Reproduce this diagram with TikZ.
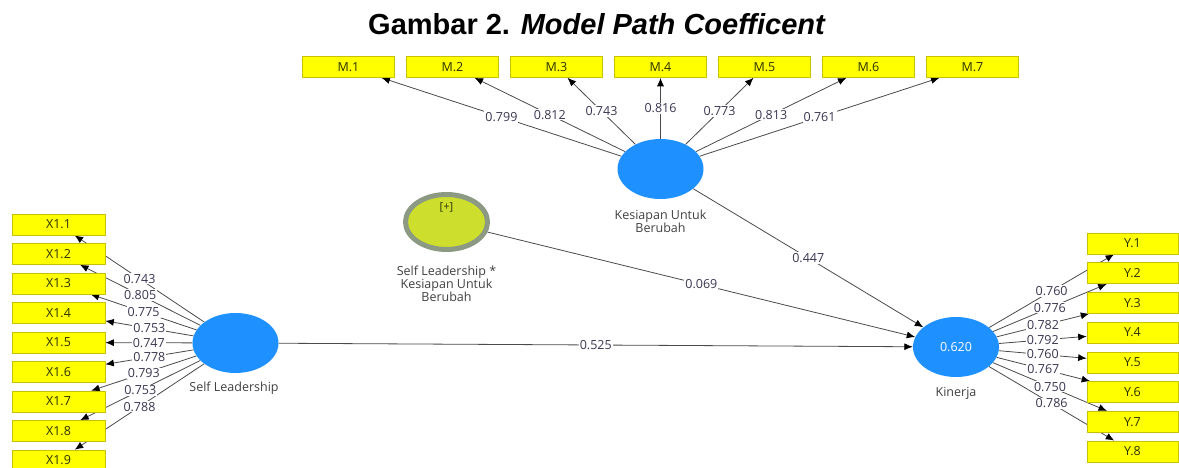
\documentclass[tikz,border=0pt]{standalone}
\usepackage{fontspec}
\setmainfont{Open Sans}
\newfontfamily\titlefont{Liberation Sans}
\usetikzlibrary{arrows.meta,backgrounds,shapes.geometric}
\definecolor{lvblue}{HTML}{1E90FF}
\definecolor{modfill}{HTML}{CDDF2C}
\definecolor{modring}{HTML}{8C9A84}
\definecolor{indyellow}{HTML}{FFFF00}
\definecolor{indborder}{HTML}{C8C000}
\definecolor{indtext}{HTML}{2A3300}
\definecolor{coeftext}{HTML}{3A3652}
\definecolor{conngray}{HTML}{4A4A4A}
\begin{document}
\begin{tikzpicture}[x=1pt,y=-1pt,>={Latex[length=8.5pt,width=7pt,color=black]},line join=round,font=\fontsize{12.5}{13}\selectfont,
	ind/.style={draw=indborder,line width=0.6pt,fill=indyellow,minimum width=92pt,minimum height=21pt,inner sep=0pt,text=indtext},
	lv/.style={ellipse,fill=lvblue,minimum width=86pt,minimum height=60pt,inner sep=0pt,text=white},
	lvname/.style={align=center,text=black!75,inner sep=0pt},
	conn/.style={draw=conngray,line width=0.8pt},
	coef/.style={fill=white,inner sep=1pt,text=coeftext}]
	\useasboundingbox (0,0) rectangle (1179,468);
	\node[anchor=base,font=\titlefont\fontsize{29}{31}\selectfont\bfseries] (title) at (597,35) {Gambar 2. \textit{Model Path Coefficent}};
	% latent variables
	\node[lv] (SL) at (235.5,343) {};
	\node[lv] (KS) at (660.5,169) {};
	\node[lv] (KN) at (956,347) {0.620};
	\node[ellipse,fill=modfill,draw=modring,line width=5pt,minimum width=82pt,minimum height=55pt,inner sep=0pt] (MOD) at (446.5,222) {};
	\node[font=\fontsize{11}{12}\selectfont,text=indtext] (plus) at (446.5,207) {[+]};
	\node[lvname] (SLname) at (234,388) {Self Leadership};
	\node[lvname] (KSname) at (660.5,221.5) {Kesiapan Untuk\\Berubah};
	\node[lvname] (KNname) at (956,393) {Kinerja};
	\node[lvname] (MODname) at (446.5,284) {Self Leadership *\\Kesiapan Untuk\\Berubah};
	% indicators
	\foreach \i in {1,...,7} \node[ind] (M\i) at ({348.5+104*(\i-1)},67) {M.\i};
	\foreach \i in {1,...,9} \node[ind,minimum width=93pt] (X\i) at (58.5,{224.5+29.5*(\i-1)}) {X1.\i};
	\foreach \i in {1,...,8} \node[ind,minimum width=91pt] (Y\i) at (1132.5,{243.5+29.7*(\i-1)}) {Y.\i};
	% connectors
	\begin{pgfonlayer}{background}
		\foreach \i in {1,...,7} \draw[conn,->] (KS) -- (M\i);
		\foreach \i in {1,...,9} \draw[conn,->] (SL) -- (X\i);
		\foreach \i in {1,...,8} \draw[conn,->] (KN) -- (Y\i);
		\draw[conn,->] (SL) -- (KN);
		\draw[conn,->] (KS) -- (KN);
		\draw[conn,->] (MOD) -- (KN);
	\end{pgfonlayer}
	% coefficients
	\foreach \v [count=\i] in {0.799,0.812,0.743,0.816,0.773,0.813,0.761} \path (KS) -- node[coef]{\v} (M\i);
	\foreach \v [count=\i] in {0.743,0.805,0.775,0.753,0.747,0.778,0.793,0.753,0.788} \path (SL) -- node[coef]{\v} (X\i);
	\foreach \v [count=\i] in {0.760,0.776,0.782,0.792,0.760,0.767,0.750,0.786} \path (KN) -- node[coef]{\v} (Y\i);
	\path (SL) -- node[coef]{0.525} (KN);
	\path (KS) -- node[coef]{0.447} (KN);
	\path (MOD) -- node[coef]{0.069} (KN);
\end{tikzpicture}
\end{document}
